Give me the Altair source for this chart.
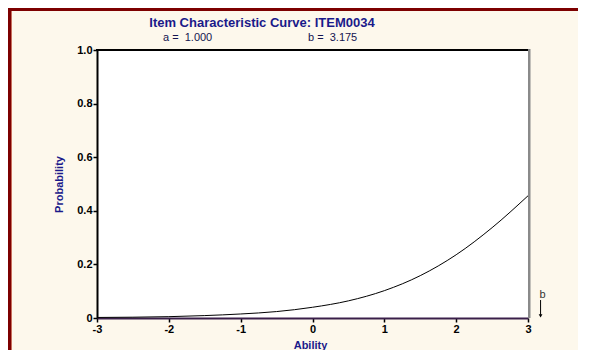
import altair as alt
import pandas as pd

# ---- data ----
ability = [-3, -2.5, -2, -1.5, -1, -0.5, 0, 0.5, 1, 1.5, 2, 2.5, 3]
probability = [0.002, 0.003, 0.005, 0.009, 0.015, 0.024, 0.040, 0.064,
               0.102, 0.158, 0.236, 0.337, 0.456]
title_text = "Item Characteristic Curve: ITEM0034"
param_a = "a =\u00a0\u00a01.000"
param_b = "b =\u00a0\u00a03.175"
b_value = 3.175
b_label = "b"
x_tick_values = [-3, -2.5, -2, -1.5, -1, -0.5, 0, 0.5, 1, 1.5, 2, 2.5, 3]
y_tick_values = [0, 0.1, 0.2, 0.3, 0.4, 0.5, 0.6, 0.7, 0.8, 0.9, 1.0]

NAVY = "#1a1a8a"
CREAM = "#fdf8ec"
FONT = "Liberation Sans"
W, H = 431, 268

curve_df = pd.DataFrame({"ability": ability, "probability": probability})

xscale = alt.Scale(domain=[-3, 3], nice=False, zero=False)
yscale = alt.Scale(domain=[0, 1], nice=False)

x_axis = alt.Axis(
    values=x_tick_values,
    labelExpr="datum.value % 1 === 0 ? '' + datum.value : ''",
    labelOverlap=False, labelFlush=False,
    grid=False, domainColor="#3a1f4a", domainWidth=2,
    tickColor="black", tickWidth=1.5, tickSize=4,
    labelFont=FONT, labelFontSize=11, labelFontWeight="bold", labelColor="black",
    labelPadding=1,
    title="Ability", titleFont=FONT, titleFontSize=11, titleFontWeight="bold",
    titleColor=NAVY, titleY=27, titleX=213, titleBaseline="middle",
)
y_axis = alt.Axis(
    values=y_tick_values,
    labelExpr="datum.value === 0 ? '0' : (round(datum.value * 10) % 2 === 0 ? format(datum.value, '.1f') : '')",
    labelOverlap=False, labelFlush=False,
    grid=False, domainColor="black", domainWidth=2,
    tickColor="black", tickWidth=1.5, tickSize=4,
    labelFont=FONT, labelFontSize=11, labelFontWeight="bold", labelColor="black",
    labelPadding=1,
    title="Probability", titleFont=FONT, titleFontSize=11, titleFontWeight="bold",
    titleColor=NAVY, titleAngle=-90, titleX=-38, titleY=134,
    titleAlign="center", titleBaseline="middle",
)

curve = alt.Chart(curve_df).mark_line(
    color="black", strokeWidth=1, interpolate="monotone"
).encode(
    x=alt.X("ability:Q", scale=xscale, axis=x_axis),
    y=alt.Y("probability:Q", scale=yscale, axis=y_axis),
)

# frame decoration (outer border of the picture), drawn as thin rects
frame_df = pd.DataFrame({"k": [0]})
top_border = alt.Chart(frame_df).mark_rect(color="#7d0000").encode(
    x=alt.value(-89), x2=alt.value(481), y=alt.value(-42), y2=alt.value(-39))
left_border = alt.Chart(frame_df).mark_rect(color="#7d0000").encode(
    x=alt.value(-89), x2=alt.value(-86), y=alt.value(-42), y2=alt.value(300))
left_inner = alt.Chart(frame_df).mark_rect(color="#c8705e").encode(
    x=alt.value(-86), x2=alt.value(-85), y=alt.value(-39), y2=alt.value(300))

# plot-area box: top black, right gray
box_top = alt.Chart(frame_df).mark_rect(color="black").encode(
    x=alt.value(-1), x2=alt.value(W), y=alt.value(-1), y2=alt.value(1))
box_right = alt.Chart(frame_df).mark_rect(color="#8a8a8a").encode(
    x=alt.value(W), x2=alt.value(W + 2.5), y=alt.value(-1), y2=alt.value(H))

# titles
title_layer = alt.Chart(pd.DataFrame({"t": [title_text]})).mark_text(
    font=FONT, fontSize=13, fontWeight="bold", color=NAVY, align="center", baseline="alphabetic"
).encode(x=alt.value(165), y=alt.value(-23), text="t:N")
a_layer = alt.Chart(pd.DataFrame({"t": [param_a]})).mark_text(
    font=FONT, fontSize=11, color="#141450", align="left", baseline="alphabetic"
).encode(x=alt.value(66), y=alt.value(-9), text="t:N")
b_layer = alt.Chart(pd.DataFrame({"t": [param_b]})).mark_text(
    font=FONT, fontSize=11, color="#141450", align="left", baseline="alphabetic"
).encode(x=alt.value(211), y=alt.value(-9), text="t:N")

# b marker arrow beyond the right edge
b_df = pd.DataFrame({"b": [b_value], "y0": [0.067], "y1": [0.012], "tip": [0.008],
                     "ty": [0.084], "lab": [b_label]})
b_rule = alt.Chart(b_df).mark_rule(color="black", strokeWidth=1).encode(
    x=alt.X("b:Q", scale=xscale), y=alt.Y("y0:Q", scale=yscale), y2="y1:Q")
b_tip = alt.Chart(b_df).mark_point(shape="triangle-down", filled=True, color="black",
                                   size=14, opacity=1).encode(
    x=alt.X("b:Q", scale=xscale), y=alt.Y("tip:Q", scale=yscale))
b_text = alt.Chart(b_df).mark_text(font=FONT, fontSize=11, color="#333333",
                                   align="center", baseline="middle", dx=2).encode(
    x=alt.X("b:Q", scale=xscale), y=alt.Y("ty:Q", scale=yscale), text="lab:N")

chart = alt.layer(
    top_border, left_border, left_inner,
    curve, box_top, box_right,
    title_layer, a_layer, b_layer,
    b_rule, b_tip, b_text,
).properties(
    width=W, height=H, padding=0, background=CREAM
).configure_view(fill="white", stroke=None)

chart.save("out.html", embed_options={"renderer": "svg", "actions": False})
